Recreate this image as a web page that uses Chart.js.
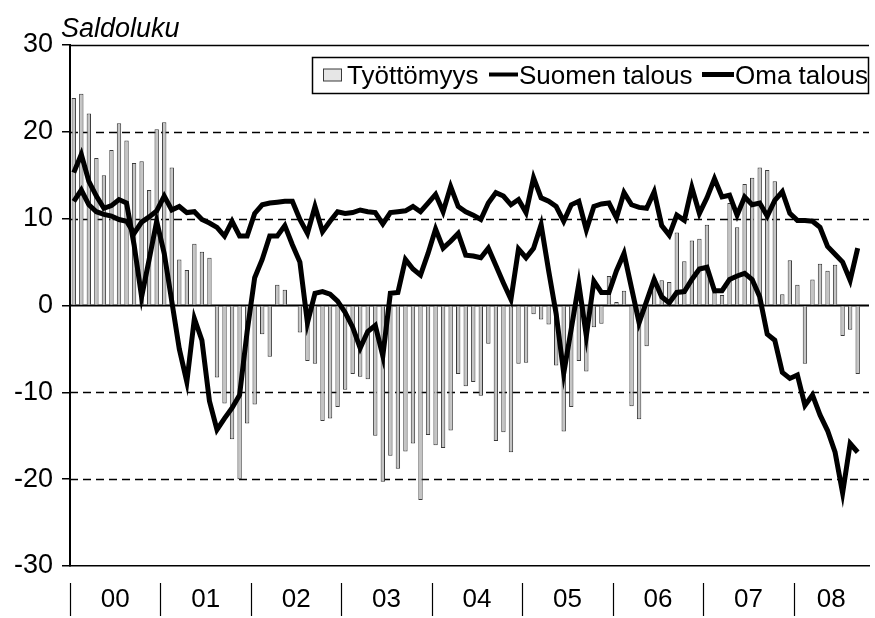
<!DOCTYPE html>
<html>
<head>
<meta charset="utf-8">
<script src="https://cdn.jsdelivr.net/npm/chart.js@4.4.1/dist/chart.umd.min.js"></script>
<style>
html,body{margin:0;padding:0;background:#fff;}
#wrap{width:875px;height:618px;position:relative;}
</style>
</head>
<body>
<div id="wrap"><canvas id="c" width="875" height="618"></canvas></div>
<script>
// ---- data ----
const years = ['00','01','02','03','04','05','06','07','08'];
const monthsPerYear = 12;
const categories = [];
for (let k = 0; k < years.length; k++) {
  for (let m = 1; m <= 12; m++) {
    if (k === years.length - 1 && m > 10) break;
    categories.push('20' + years[k] + '-' + String(m).padStart(2, '0'));
  }
}
// Työttömyys (bars), Jan 2000 - Sep 2008 (Oct 2008 empty)
const tyottomyys = [
  23.9, 24.4, 22.1, 17.0, 15.0, 17.9, 21.0, 19.0, 16.4, 16.6, 13.3, 20.3,
  21.1, 15.9, 5.3, 4.1, 7.1, 6.2, 5.5, -8.3, -11.3, -15.4, -20.0, -13.6,
  -11.4, -3.3, -5.9, 2.4, 1.8, 0.0, -3.1, -6.4, -6.7, -13.3, -13.0, -11.7,
  -9.7, -7.9, -8.2, -8.5, -15.0, -20.3, -17.3, -18.8, -16.8, -15.9, -22.4, -14.9,
  -16.1, -16.4, -14.4, -7.9, -9.3, -8.8, -10.4, -4.4, -15.6, -14.6, -16.9, -6.7,
  -6.6, -1.0, -1.6, -2.2, -6.9, -14.5, -11.7, -6.4, -7.6, -2.5, -2.1, 3.4,
  0.4, 1.7, -11.6, -13.1, -4.7, 3.2, 2.9, 2.7, 8.4, 5.1, 7.5, 7.7,
  9.3, 1.5, 1.2, 11.8, 9.0, 14.0, 14.7, 15.9, 15.6, 14.3, 1.3, 5.2,
  2.4, -6.7, 3.0, 4.8, 4.0, 4.7, -3.5, -2.8, -7.9, null
];
const suomenTalous = [
  15.3, 17.4, 14.3, 12.6, 11.2, 11.5, 12.2, 11.8, 7.0, 1.0, 5.3, 9.7,
  6.0, 0.5, -5.0, -8.8, -1.5, -4.0, -11.0, -14.3, -13.0, -11.8, -10.3, -3.0,
  3.2, 5.3, 8.0, 8.0, 9.2, 7.0, 5.0, -2.0, 1.4, 1.6, 1.3, 0.5,
  -0.8, -2.5, -4.9, -3.0, -2.3, -5.8, 1.4, 1.5, 5.3, 4.2, 3.5, 6.0,
  8.8, 6.6, 7.4, 8.3, 5.8, 5.7, 5.5, 6.6, 4.6, 2.6, 0.7, 6.5,
  5.5, 6.6, 9.3, 4.0, -1.0, -7.8, -2.7, 2.5, -3.5, 2.8, 1.5, 1.5,
  4.0, 6.0, 2.0, -2.0, 0.5, 3.0, 1.0, 0.3, 1.5, 1.6, 3.0, 4.2,
  4.4, 1.7, 1.7, 3.0, 3.4, 3.7, 3.0, 1.0, -3.3, -4.0, -7.7, -8.4,
  -8.0, -11.5, -10.3, -12.6, -14.4, -16.9, -21.6, -15.9, -16.9, null
];
const omaTalous = [
  12.0, 13.3, 11.6, 10.8, 10.5, 10.3, 9.9, 9.7, 8.3, 9.6, 10.2, 10.9,
  12.6, 11.0, 11.4, 10.7, 10.8, 9.9, 9.5, 9.0, 8.0, 9.7, 8.0, 8.0,
  10.6, 11.6, 11.8, 11.9, 12.0, 12.0, 9.9, 8.3, 11.4, 8.5, 9.7, 10.8,
  10.6, 10.7, 11.0, 10.8, 10.7, 9.4, 10.7, 10.8, 10.9, 11.4, 10.8, 11.8,
  12.8, 10.8, 13.7, 11.4, 10.8, 10.4, 9.9, 11.8, 13.0, 12.6, 11.6, 12.2,
  10.7, 14.7, 12.4, 12.0, 11.4, 9.7, 11.6, 12.0, 8.7, 11.4, 11.7, 11.8,
  10.1, 13.0, 11.6, 11.3, 11.2, 13.1, 9.2, 8.1, 10.4, 9.8, 13.6, 10.6,
  12.4, 14.6, 12.5, 12.7, 10.4, 12.5, 11.6, 11.8, 10.3, 12.1, 13.1, 10.6,
  9.8, 9.8, 9.7, 9.0, 6.8, 5.9, 5.0, 2.9, 6.6, null
];
const yTickValues = [-30, -20, -10, 0, 10, 20, 30];
const dashedValues = [-20, -10, 10, 20];
const seriesNames = ['Työttömyys', 'Suomen talous', 'Oma talous'];
const yTitle = 'Saldoluku';

const FONT = "'Liberation Sans', Arial, sans-serif";
const BAR_FILL = '#c4c4c4';
const BAR_EDGE = '#3a3a3a';

const deco = {
  id: 'deco',
  beforeDatasetsDraw(chart) {
    const { ctx, chartArea: a, scales: { y } } = chart;
    ctx.save();
    ctx.strokeStyle = '#000';
    ctx.lineWidth = 1.5;
    ctx.setLineDash([8, 5]);
    dashedValues.forEach(v => {
      const py = Math.round(y.getPixelForValue(v)) + 0.5;
      ctx.beginPath(); ctx.moveTo(a.left, py); ctx.lineTo(a.right, py); ctx.stroke();
    });
    ctx.setLineDash([]);
    const pt = Math.round(y.getPixelForValue(30)) + 0.5;
    ctx.lineWidth = 1.5;
    ctx.beginPath(); ctx.moveTo(a.left, pt); ctx.lineTo(a.right, pt); ctx.stroke();
    const p0 = y.getPixelForValue(0);
    ctx.lineWidth = 2;
    ctx.beginPath(); ctx.moveTo(a.left, p0); ctx.lineTo(a.right, p0); ctx.stroke();
    ctx.restore();
  },
  afterDraw(chart) {
    const { ctx, chartArea: a, scales: { x } } = chart;
    ctx.save();
    const half = (x.getPixelForValue(1) - x.getPixelForValue(0)) / 2;
    ctx.strokeStyle = '#000';
    ctx.lineWidth = 1.2;
    ctx.fillStyle = '#000';
    ctx.font = '26px ' + FONT;
    ctx.textAlign = 'center';
    ctx.textBaseline = 'middle';
    years.forEach((yr, k) => {
      const start = x.getPixelForValue(k * monthsPerYear) - half;
      const sx = Math.round(start) + 0.5;
      ctx.beginPath(); ctx.moveTo(sx, a.bottom + 17); ctx.lineTo(sx, a.bottom + 50); ctx.stroke();
      let cx;
      if (k < years.length - 1) cx = start + monthsPerYear * half;
      else cx = (start + a.right) / 2;
      ctx.fillText(yr, cx, a.bottom + 34);
    });
    ctx.font = 'italic 27px ' + FONT;
    ctx.textAlign = 'left';
    ctx.textBaseline = 'alphabetic';
    ctx.fillText(yTitle, 61, 37);
    // legend
    const lx = 312.5, ly = 57.5, lw = 556, lh = 36;
    ctx.fillStyle = '#fff';
    ctx.fillRect(lx, ly, lw, lh);
    ctx.strokeStyle = '#000';
    ctx.lineWidth = 1.5;
    ctx.strokeRect(lx, ly, lw, lh);
    const my = ly + lh / 2;
    ctx.fillStyle = '#e6e6e6';
    ctx.fillRect(323.5, my - 6.5, 18, 12);
    ctx.strokeStyle = BAR_EDGE; ctx.lineWidth = 1;
    ctx.strokeRect(323.5, my - 6.5, 18, 12);
    ctx.fillStyle = '#000';
    ctx.font = '26px ' + FONT;
    ctx.textBaseline = 'middle';
    ctx.fillText(seriesNames[0], 347, my + 1);
    ctx.strokeStyle = '#000';
    ctx.lineWidth = 4;
    ctx.beginPath(); ctx.moveTo(489, my - 1); ctx.lineTo(518, my - 1); ctx.stroke();
    ctx.fillText(seriesNames[1], 519, my + 1);
    ctx.lineWidth = 5;
    ctx.beginPath(); ctx.moveTo(702, my - 1); ctx.lineTo(734, my - 1); ctx.stroke();
    ctx.fillText(seriesNames[2], 735, my + 1);
    ctx.restore();
  }
};

new Chart(document.getElementById('c'), {
  type: 'bar',
  data: {
    labels: categories,
    datasets: [
      {
        type: 'line', label: seriesNames[1], data: suomenTalous,
        borderColor: '#000', borderWidth: 5, pointRadius: 0, tension: 0,
        borderJoinStyle: 'miter', order: 1
      },
      {
        type: 'line', label: seriesNames[2], data: omaTalous,
        borderColor: '#000', borderWidth: 5, pointRadius: 0, tension: 0,
        borderJoinStyle: 'miter', order: 1
      },
      {
        type: 'bar', label: seriesNames[0], data: tyottomyys,
        backgroundColor: BAR_FILL, borderColor: BAR_EDGE, borderWidth: 1,
        barPercentage: 0.58, categoryPercentage: 1.0, order: 2
      }
    ]
  },
  options: {
    responsive: false,
    animation: false,
    devicePixelRatio: 1,
    layout: { padding: { top: 45, right: 6, left: 0, bottom: 0 } },
    plugins: { legend: { display: false }, title: { display: false }, tooltip: { enabled: false } },
    scales: {
      x: {
        type: 'category',
        grid: { display: false },
        ticks: { display: false },
        border: { display: true, color: '#000', width: 1.5 },
        afterFit(s) { s.height = 52; }
      },
      y: {
        min: -30, max: 30,
        afterBuildTicks(s) { s.ticks = yTickValues.map(v => ({ value: v })); },
        ticks: { color: '#000', font: { family: FONT, size: 27 }, padding: 9 },
        grid: { drawOnChartArea: false, drawTicks: true, tickLength: 8, color: '#000', lineWidth: 1.5 },
        border: { display: true, color: '#000', width: 2 },
        afterFit(s) { s.width = 70; }
      }
    }
  },
  plugins: [deco]
});
</script>
</body>
</html>
